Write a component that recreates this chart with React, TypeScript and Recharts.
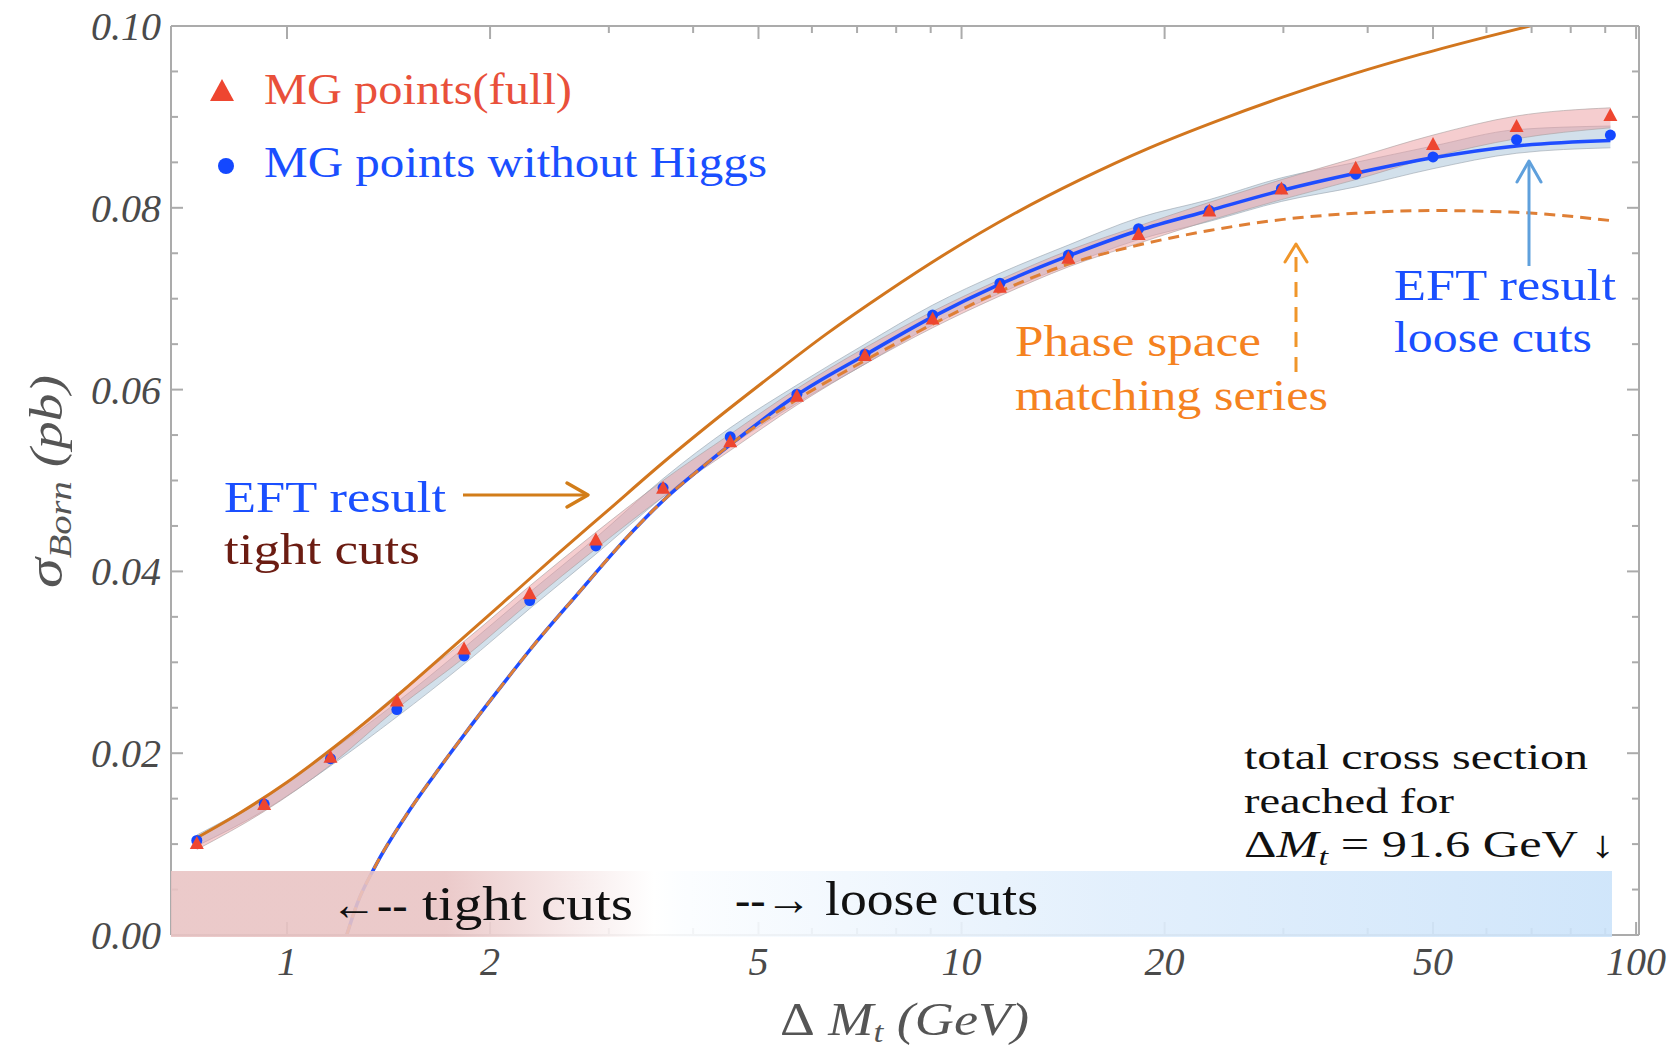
import React from 'react';
import { ComposedChart, XAxis, YAxis, Line, Area, Scatter } from 'recharts';

// MadGraph sample points (Delta M_t in GeV, sigma in pb)
const mgX = [0.735, 0.925, 1.16, 1.455, 1.83, 2.29, 2.87, 3.61, 4.54, 5.7, 7.19, 9.06, 11.4, 14.4, 18.3, 23.3, 29.8, 38.4, 50.0, 66.5, 91.6];
const mgFull = [0.0100, 0.0143, 0.0195, 0.0257, 0.0314, 0.0375, 0.0434, 0.0491, 0.0542, 0.0592, 0.0637, 0.0677, 0.0712, 0.0744, 0.0770, 0.0796, 0.0820, 0.0843, 0.0869, 0.0889, 0.0901];
const mgNoHiggs = [0.0104, 0.0144, 0.0194, 0.0248, 0.0307, 0.0368, 0.0428, 0.0492, 0.0548, 0.0595, 0.0639, 0.0682, 0.0717, 0.0748, 0.0777, 0.0797, 0.0821, 0.0837, 0.0856, 0.0875, 0.0880];

// uncertainty bands around the points
const fullLo = [0.0094, 0.0136, 0.0187, 0.0249, 0.0305, 0.0366, 0.0425, 0.0482, 0.0533, 0.0583, 0.0628, 0.0668, 0.0703, 0.0735, 0.0761, 0.0786, 0.0809, 0.0831, 0.0856, 0.0876, 0.0888];
const fullHi = [0.0106, 0.0150, 0.0203, 0.0265, 0.0323, 0.0384, 0.0443, 0.0500, 0.0551, 0.0601, 0.0646, 0.0686, 0.0721, 0.0753, 0.0780, 0.0806, 0.0831, 0.0855, 0.0880, 0.0901, 0.0910];
const noHiggsLo = [0.0098, 0.0137, 0.0186, 0.0240, 0.0298, 0.0359, 0.0419, 0.0482, 0.0538, 0.0585, 0.0628, 0.0671, 0.0706, 0.0737, 0.0765, 0.0785, 0.0807, 0.0823, 0.0843, 0.0860, 0.0866];
const noHiggsHi = [0.0110, 0.0151, 0.0202, 0.0256, 0.0316, 0.0377, 0.0437, 0.0502, 0.0558, 0.0605, 0.0650, 0.0693, 0.0728, 0.0759, 0.0789, 0.0809, 0.0833, 0.0850, 0.0868, 0.0886, 0.0890];

// EFT result, tight cuts
const tightX = [0.735, 0.85, 1.0, 1.2, 1.45, 1.75, 2.1, 2.5, 3.0, 3.6, 4.3, 5.2, 6.3, 7.7, 9.5, 12, 15, 19, 24, 30, 38, 48, 60, 75];
const tightY = [0.0107, 0.0134, 0.0168, 0.0212, 0.0262, 0.0315, 0.0367, 0.0417, 0.0468, 0.0519, 0.0566, 0.0614, 0.0661, 0.0706, 0.0750, 0.0794, 0.0831, 0.0866, 0.0896, 0.0922, 0.0947, 0.0969, 0.0988, 0.1006];

// EFT result, loose cuts, and the phase space matching series
const looseX = [1.226, 1.27, 1.35, 1.5, 1.65, 1.825, 2.05, 2.305, 2.688, 3.225, 3.6, 4.1, 4.587, 5.7, 7.19, 9.06, 11.4, 14.4, 18.3, 23.3, 29.8, 38.4, 50, 66.5, 91.6];
const looseY = [0, 0.0034, 0.0075, 0.0131, 0.0175, 0.0219, 0.0268, 0.0316, 0.0374, 0.0441, 0.0477, 0.0513, 0.0542, 0.0594, 0.0638, 0.0680, 0.0716, 0.0747, 0.0775, 0.0797, 0.0819, 0.0838, 0.0855, 0.0868, 0.0874];
const matchY = [0, 0.0034, 0.0075, 0.0131, 0.0175, 0.0219, 0.0268, 0.0316, 0.0374, 0.0441, 0.0477, 0.0513, 0.0542, 0.0589, 0.0632, 0.0672, 0.0708, 0.0738, 0.0759, 0.0775, 0.0787, 0.0794, 0.0797, 0.0795, 0.0786];

// ticks
const xMajor = [1, 2, 5, 10, 20, 50, 100];
const xMinor = [3, 4, 6, 7, 8, 9, 30, 40, 60, 70, 80, 90];
const yMajor = [0, 0.02, 0.04, 0.06, 0.08, 0.1];
const yMinor = [0.005, 0.01, 0.015, 0.025, 0.03, 0.035, 0.045, 0.05, 0.055, 0.065, 0.07, 0.075, 0.085, 0.09, 0.095];

const fullPts = mgX.map((x, i) => ({ x, y: mgFull[i] }));
const noHiggsPts = mgX.map((x, i) => ({ x, y: mgNoHiggs[i] }));
const fullBand = mgX.map((x, i) => ({ x, band: [fullLo[i], fullHi[i]] }));
const noHiggsBand = mgX.map((x, i) => ({ x, band: [noHiggsLo[i], noHiggsHi[i]] }));
const tightData = tightX.map((x, i) => ({ x, y: tightY[i] }));
const looseData = looseX.map((x, i) => ({ x, y: looseY[i] }));
const matchData = looseX.map((x, i) => ({ x, y: matchY[i] }));

const serif = "'Liberation Serif', 'DejaVu Serif', serif";
const frame = '#ababab';
const tickText = '#4a4a4a';

const isIn = (arr: number[], v: number) => arr.some((a) => Math.abs(a - v) < 1e-9);

const BottomTick = (props: any) => {
  const { x, y, payload } = props;
  const major = isIn(xMajor, payload.value);
  return (
    <g>
      <line x1={x} x2={x} y1={y} y2={y - (major ? 13 : 7)} stroke={frame} strokeWidth={2} />
      {major && (
        <text x={x} y={y + 40} textAnchor="middle" fontFamily={serif} fontStyle="italic" fontSize={40} fill={tickText}>
          {payload.value}
        </text>
      )}
    </g>
  );
};

const TopTick = (props: any) => {
  const { x, y, payload } = props;
  const major = isIn(xMajor, payload.value);
  return <line x1={x} x2={x} y1={y} y2={y + (major ? 13 : 7)} stroke={frame} strokeWidth={2} />;
};

const LeftTick = (props: any) => {
  const { x, y, payload } = props;
  const major = isIn(yMajor, payload.value);
  return (
    <g>
      <line x1={x} x2={x + (major ? 12 : 7)} y1={y} y2={y} stroke={frame} strokeWidth={2} />
      {major && (
        <text x={x - 10} y={y + 14} textAnchor="end" fontFamily={serif} fontStyle="italic" fontSize={40} fill={tickText}>
          {payload.value.toFixed(2)}
        </text>
      )}
    </g>
  );
};

const RightTick = (props: any) => {
  const { x, y, payload } = props;
  const major = isIn(yMajor, payload.value);
  return <line x1={x} x2={x - (major ? 12 : 7)} y1={y} y2={y} stroke={frame} strokeWidth={2} />;
};

const TriangleShape = (props: any) => {
  const { cx, cy } = props;
  return <path d={`M${cx},${cy - 8} L${cx + 7},${cy + 5} L${cx - 7},${cy + 5} Z`} fill="#ee4630" />;
};

const DotShape = (props: any) => {
  const { cx, cy } = props;
  return <circle cx={cx} cy={cy} r={5.5} fill="#1448ff" />;
};

const Overlay = () => (
  <svg width={1675} height={1050} style={{ position: 'absolute', left: 0, top: 0, pointerEvents: 'none' }}>
    <defs>
      <linearGradient id="cutsBand" x1="0" y1="0" x2="1" y2="0">
        <stop offset="0" stopColor="#e9c4c4" />
        <stop offset="0.19" stopColor="#e9c4c4" />
        <stop offset="0.335" stopColor="#ffffff" />
        <stop offset="0.355" stopColor="#fbfdff" />
        <stop offset="0.65" stopColor="#e0eefc" />
        <stop offset="1" stopColor="#cbe3fa" />
      </linearGradient>
    </defs>

    {/* tight / loose cuts band */}
    <rect x={171} y={871} width={1441} height={66} fill="url(#cutsBand)" opacity={0.9} />
    <text x={331} y={920} fontFamily={serif} fontSize={46} fill="#111">←--</text>
    <text x={422} y={920} fontFamily={serif} fontSize={48} fill="#111" textLength={211} lengthAdjust="spacingAndGlyphs">tight cuts</text>
    <text x={735} y={915} fontFamily={serif} fontSize={46} fill="#111">--→</text>
    <text x={825} y={915} fontFamily={serif} fontSize={48} fill="#111" textLength={213} lengthAdjust="spacingAndGlyphs">loose cuts</text>

    {/* legend */}
    <path d="M222,79 L234,101 L210,101 Z" fill="#ee4630" />
    <circle cx={226} cy={166} r={8} fill="#1448ff" />
    <text x={264} y={104} fontFamily={serif} fontSize={44} fill="#e9503a" textLength={308} lengthAdjust="spacingAndGlyphs">MG points(full)</text>
    <text x={264} y={177} fontFamily={serif} fontSize={44} fill="#1a4fff" textLength={503} lengthAdjust="spacingAndGlyphs">MG points without Higgs</text>

    {/* EFT tight cuts label */}
    <text x={224} y={512} fontFamily={serif} fontSize={44} fill="#1a4fff" textLength={222} lengthAdjust="spacingAndGlyphs">EFT result</text>
    <text x={224} y={564} fontFamily={serif} fontSize={44} fill="#6b1c12" textLength={196} lengthAdjust="spacingAndGlyphs">tight cuts</text>
    <line x1={463} y1={495} x2={587} y2={495} stroke="#d27d19" strokeWidth={3} />
    <polyline points="567,483 588,495 567,507" fill="none" stroke="#d27d19" strokeWidth={3.5} strokeLinecap="round" strokeLinejoin="round" />

    {/* phase space matching series label */}
    <text x={1015} y={356} fontFamily={serif} fontSize={44} fill="#f5821f" textLength={246} lengthAdjust="spacingAndGlyphs">Phase space</text>
    <text x={1015} y={410} fontFamily={serif} fontSize={44} fill="#f5821f" textLength={313} lengthAdjust="spacingAndGlyphs">matching series</text>
    <line x1={1296} y1={372} x2={1296} y2={246} stroke="#f0962a" strokeWidth={3} strokeDasharray="15 10" />
    <polyline points="1285,262 1296,244 1307,262" fill="none" stroke="#f0962a" strokeWidth={3} strokeLinecap="round" strokeLinejoin="round" />

    {/* EFT loose cuts label */}
    <text x={1394} y={300} fontFamily={serif} fontSize={44} fill="#1a4fff" textLength={222} lengthAdjust="spacingAndGlyphs">EFT result</text>
    <text x={1394} y={352} fontFamily={serif} fontSize={44} fill="#1a4fff" textLength={198} lengthAdjust="spacingAndGlyphs">loose cuts</text>
    <line x1={1529} y1={266} x2={1529} y2={162} stroke="#5fa0dc" strokeWidth={3} />
    <polyline points="1517,182 1529,161 1541,182" fill="none" stroke="#5fa0dc" strokeWidth={3} strokeLinecap="round" strokeLinejoin="round" />

    {/* total cross section note */}
    <text x={1244} y={769} fontFamily={serif} fontSize={36} fill="#111" textLength={344} lengthAdjust="spacingAndGlyphs">total cross section</text>
    <text x={1244} y={813} fontFamily={serif} fontSize={36} fill="#111" textLength={210} lengthAdjust="spacingAndGlyphs">reached for</text>
    <text x={1244} y={857} fontFamily={serif} fontSize={38} fill="#111" textLength={371} lengthAdjust="spacingAndGlyphs">
      <tspan>Δ</tspan>
      <tspan fontStyle="italic">M</tspan>
      <tspan fontSize={26} dy={8} fontStyle="italic">t</tspan>
      <tspan dy={-8}>{' = 91.6 GeV ↓'}</tspan>
    </text>

    {/* axis titles */}
    <text x={780} y={1035} fontFamily={serif} fontSize={46} fill="#555" fontStyle="italic" textLength={249} lengthAdjust="spacingAndGlyphs">
      <tspan fontStyle="normal">Δ</tspan>
      <tspan>{' M'}</tspan>
      <tspan fontSize={30} dy={7}>t</tspan>
      <tspan dy={-7}>{' (GeV)'}</tspan>
    </text>
    <text transform="translate(62,588) rotate(-90)" fontFamily={serif} fontSize={46} fill="#555" fontStyle="italic" textLength={213} lengthAdjust="spacingAndGlyphs">
      <tspan fontSize={50}>σ</tspan>
      <tspan fontSize={32} dy={9}>Born</tspan>
      <tspan dy={-9}>{' (pb)'}</tspan>
    </text>
  </svg>
);

const App: React.FC = () => {
  return (
    <div style={{ position: 'absolute', left: 0, top: 0, width: 1675, height: 1050, background: '#fff' }}>
      <ComposedChart width={1675} height={1050} margin={{ top: 0, right: 0, bottom: 0, left: 0 }}>
        <XAxis
          xAxisId="bottom"
          dataKey="x"
          type="number"
          scale="log"
          domain={[0.673, 101]}
          allowDataOverflow
          ticks={[...xMajor, ...xMinor]}
          interval={0}
          height={115}
          tickSize={0}
          tickMargin={0}
          tickLine={false}
          tick={(p: any) => <BottomTick {...p} />}
          axisLine={{ stroke: frame, strokeWidth: 2 }}
        />
        <XAxis
          xAxisId="top"
          orientation="top"
          dataKey="x"
          type="number"
          scale="log"
          domain={[0.673, 101]}
          allowDataOverflow
          ticks={[...xMajor, ...xMinor]}
          interval={0}
          height={26}
          tickSize={0}
          tickMargin={0}
          tickLine={false}
          tick={(p: any) => <TopTick {...p} />}
          axisLine={{ stroke: frame, strokeWidth: 2 }}
        />
        <YAxis
          yAxisId="left"
          type="number"
          domain={[0, 0.1]}
          allowDataOverflow
          ticks={[...yMajor, ...yMinor]}
          interval={0}
          width={171}
          tickSize={0}
          tickMargin={0}
          tickLine={false}
          tick={(p: any) => <LeftTick {...p} />}
          axisLine={{ stroke: frame, strokeWidth: 2 }}
        />
        <YAxis
          yAxisId="right"
          orientation="right"
          type="number"
          domain={[0, 0.1]}
          allowDataOverflow
          ticks={[...yMajor, ...yMinor]}
          interval={0}
          width={36}
          tickSize={0}
          tickMargin={0}
          tickLine={false}
          tick={(p: any) => <RightTick {...p} />}
          axisLine={{ stroke: frame, strokeWidth: 2 }}
        />

        <Area
          xAxisId="bottom"
          yAxisId="left"
          data={noHiggsBand}
          dataKey="band"
          type="monotone"
          fill="#8fb2cc"
          fillOpacity={0.4}
          stroke="#9aa3ad"
          strokeOpacity={0.6}
          strokeWidth={1}
          isAnimationActive={false}
        />
        <Area
          xAxisId="bottom"
          yAxisId="left"
          data={fullBand}
          dataKey="band"
          type="monotone"
          fill="#ec9ca0"
          fillOpacity={0.5}
          stroke="#a9a0a0"
          strokeOpacity={0.6}
          strokeWidth={1}
          isAnimationActive={false}
        />

        <Line xAxisId="bottom" yAxisId="left" data={tightData} dataKey="y" type="monotone" stroke="#d2761e" strokeWidth={3} dot={false} activeDot={false} isAnimationActive={false} />
        <Line xAxisId="bottom" yAxisId="left" data={looseData} dataKey="y" type="monotone" stroke="#1f4dff" strokeWidth={3.5} dot={false} activeDot={false} isAnimationActive={false} />
        <Line xAxisId="bottom" yAxisId="left" data={matchData} dataKey="y" type="monotone" stroke="#df7f35" strokeWidth={3} strokeDasharray="11 7" dot={false} activeDot={false} isAnimationActive={false} />

        <Scatter xAxisId="bottom" yAxisId="left" data={noHiggsPts} dataKey="y" shape={(p: any) => <DotShape {...p} />} isAnimationActive={false} />
        <Scatter xAxisId="bottom" yAxisId="left" data={fullPts} dataKey="y" shape={(p: any) => <TriangleShape {...p} />} isAnimationActive={false} />
      </ComposedChart>
      <Overlay />
    </div>
  );
};

export default App;
